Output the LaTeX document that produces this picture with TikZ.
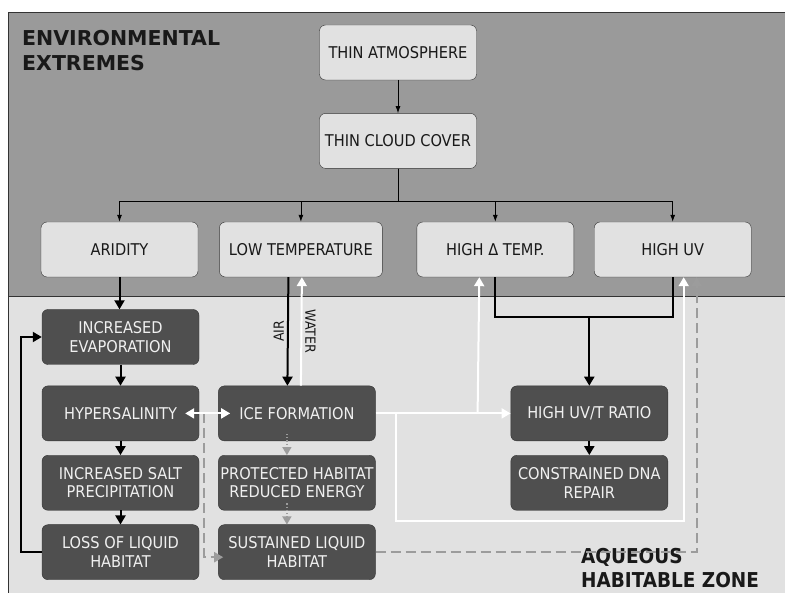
\documentclass[tikz,border=0pt]{standalone}
\usepackage{fontspec}
\setmainfont{DejaVu Sans Condensed}
\newfontfamily\headingfamily{DejaVu Sans}
\usepackage{tikz}
\definecolor{sky_grey}{HTML}{9A9A9A}
\definecolor{ground_grey}{HTML}{E1E1E1}
\definecolor{box_grey}{HTML}{4F4F4F}
\definecolor{edge_grey}{HTML}{333333}
\definecolor{link_grey}{HTML}{9C9C9C}
\tikzset{
  block_font/.style = {font=\fontsize{16.2}{18.5}\selectfont},
  heading_font/.style = {font=\headingfamily\bfseries\fontsize{20.5}{25}\selectfont},
  zone_font/.style = {font=\bfseries\fontsize{20.5}{24.5}\selectfont},
  label_font/.style = {font=\fontsize{14}{16}\selectfont},
  full_size/.style = {minimum width=157, minimum height=55}
}
\tikzset{
  extreme/.style = {block_font, full_size, align=center, draw=edge_grey, rounded corners=6, fill=ground_grey, text=black!90, inner sep=1},
  habitat/.style = {extreme, fill=box_grey, text=white!94!black},
  heading/.style = {heading_font, align=left, anchor=north west, inner sep=0, text=black!90},
  side_label/.style = {label_font, inner sep=3, text=black!90}
}
\tikzset{
  thin_arrow/.style = {-{Latex[length=7,width=5]}, line width=0.8},
  thick_line/.style = {line width=2},
  thick_arrow/.style = {thick_line, -{Triangle[length=9,width=10]}},
  white_arrow/.style = {thick_arrow, white},
  dashed_arrow/.style = {thick_line, link_grey, dash pattern=on 10pt off 5pt, -{Triangle[length=9,width=10]}},
  dotted_arrow/.style = {line width=1.2, link_grey, dotted, -{Triangle[length=8,width=9]}}
}
\usetikzlibrary{arrows.meta, positioning, calc}

\begin{document}
\begin{tikzpicture}[x=1pt, y=-1pt]
        \useasboundingbox (0,0) rectangle (785,593);

        % Zones
        \fill[ground_grey] (8,296) rectangle (785,593);
        \fill[sky_grey] (8,12) rectangle (785,296);
        \draw[edge_grey] (785,12) -- (8,12) -- (8,593);
        \draw[edge_grey] (8,296) -- (785,296);

        \node[heading] at (22,30) (h_1) {ENVIRONMENTAL\\EXTREMES};
        \node[heading, zone_font] at (581,548) (h_2) {AQUEOUS\\HABITABLE ZONE};

        % Environmental extremes
        \node[extreme] at (398,52.5) (x_1) {
            THIN ATMOSPHERE};
        \node[extreme, below=33pt of x_1] (x_2) {
            THIN CLOUD COVER};
        \node[extreme] at (119.5,249.5) (x_3) {
            ARIDITY};
        \node[extreme, minimum width=163, right=21pt of x_3] (x_4) {
            LOW TEMPERATURE};
        \node[extreme, right=34pt of x_4] (x_5) {
            HIGH Δ TEMP.};
        \node[extreme, right=20pt of x_5] (x_6) {
            HIGH UV};

        % Aqueous habitable zone
        \node[habitat] at (120.5,337) (l_1) {
            INCREASED\\EVAPORATION};
        \node[habitat, below=21pt of l_1] (l_2) {
            HYPERSALINITY};
        \node[habitat, below=14pt of l_2] (l_3) {
            INCREASED SALT\\PRECIPITATION};
        \node[habitat, below=14pt of l_3] (l_4) {
            LOSS OF LIQUID\\HABITAT};
        \node[habitat, right=19pt of l_2] (m_1) {
            ICE FORMATION};
        \node[habitat, below=14pt of m_1] (m_2) {
            PROTECTED HABITAT\\REDUCED ENERGY};
        \node[habitat, below=14pt of m_2] (m_3) {
            SUSTAINED LIQUID\\HABITAT};
        \node[habitat, right=135pt of m_1] (r_1) {
            HIGH UV/T RATIO};
        \node[habitat, below=14pt of r_1] (r_2) {
            CONSTRAINED DNA\\REPAIR};

        \coordinate (split) at ($(x_2.south)+(0,33)$);
        \coordinate (merge) at ($(r_1.north)+(0,-69)$);
        \coordinate (gap) at ($(l_2.east)!0.27!(m_1.west)$);

        % Arrows and lines
        \draw[thin_arrow] (x_1) -- (x_2);
        \foreach \n in {x_3, x_4, x_5, x_6}
            \draw[thin_arrow] (x_2.south) |- (\n.north |- split) -- (\n.north);

        \draw[thick_arrow] (x_3.south) -- (x_3.south |- l_1.north);
        \draw[thick_arrow] (l_1) -- (l_2);
        \draw[thick_arrow] (l_2) -- (l_3);
        \draw[thick_arrow] (l_3) -- (l_4);
        \draw[thick_arrow] (l_4.west) -- ++(-21,0) |- (l_1.west);

        \draw[thick_arrow] ([xshift=-12.5pt]x_4.south) -- ([xshift=-9.5pt]m_1.north)
            node[side_label, midway, rotate=90, anchor=south] (air) {AIR};
        \draw[white_arrow] ([xshift=4pt]m_1.north) -- ([xshift=1pt]x_4.south)
            node[side_label, midway, rotate=-90, anchor=south] (water) {WATER};

        \draw[thick_line] (x_5.south) |- (merge) -| (x_6.south);
        \draw[thick_arrow] (merge) -- (r_1.north);
        \draw[thick_arrow] (r_1) -- (r_2);

        \draw[dotted_arrow] ([shift={(-10,-7)}]m_1.south) -- ([xshift=-10pt]m_2.north);
        \draw[dotted_arrow] ([shift={(-10,-7)}]m_2.south) -- ([xshift=-10pt]m_3.north);

        \draw[dashed_arrow] (gap) |- ([shift={(5,5)}]m_3.west);
        \draw[dashed_arrow] (m_3.east) -| ([xshift=24pt]x_6.south);

        \draw[white_arrow, {Triangle[length=9,width=10]}-{Triangle[length=9,width=10]}]
            ([xshift=-14pt]l_2.east) -- ([xshift=12pt]m_1.west);
        \draw[white_arrow] (m_1) -- (r_1);
        \draw[white_arrow] ($(m_1.east)+(102,0)$) -- ([xshift=-16pt]x_5.south);
        \draw[white_arrow] ($(m_1.east)+(20,0)$) -- ++(0,108) -| ([xshift=11pt]x_6.south);
    \end{tikzpicture}
\end{document}
